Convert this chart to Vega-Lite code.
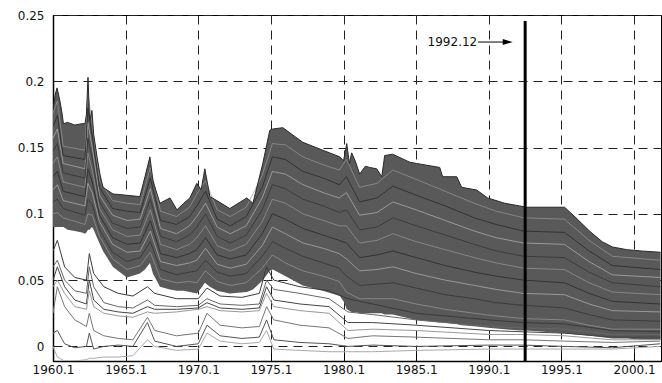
{
"$schema":"https://vega.github.io/schema/vega-lite/v6.json",
"width":608,"height":346,
"autosize":{"type":"none"},
"padding":{"left":53,"top":15,"right":1,"bottom":22},
"background":"white",
"config":{"view":{"stroke":"#000","strokeWidth":1},
"axis":{"domainColor":"#000","domainWidth":1.5,"gridColor":"#222","gridDash":[9,6],"gridWidth":1,"gridOpacity":1,"labelFont":"DejaVu Sans","labelFontSize":12,"labelColor":"#111","tickColor":"#000"}},
"datasets":{
"env":[
{"t":1960.0,"lo":0.09,"hi":0.178},{"t":1960.15,"lo":0.09,"hi":0.19},{"t":1960.28,"lo":0.09,"hi":0.195},{"t":1960.48,"lo":0.09,"hi":0.185},{"t":1960.62,"lo":0.09,"hi":0.176},{"t":1960.72,"lo":0.09,"hi":0.168},{"t":1961.0,"lo":0.088,"hi":0.169},{"t":1961.5,"lo":0.087,"hi":0.167},{"t":1962.0,"lo":0.086,"hi":0.168},{"t":1962.2,"lo":0.085,"hi":0.168},{"t":1962.3,"lo":0.086,"hi":0.175},{"t":1962.41,"lo":0.088,"hi":0.203},{"t":1962.52,"lo":0.088,"hi":0.17},{"t":1962.68,"lo":0.09,"hi":0.178},{"t":1962.8,"lo":0.088,"hi":0.16},{"t":1963.03,"lo":0.082,"hi":0.143},{"t":1963.23,"lo":0.077,"hi":0.13},{"t":1963.44,"lo":0.072,"hi":0.12},{"t":1964.13,"lo":0.06,"hi":0.115},{"t":1965.09,"lo":0.052,"hi":0.114},{"t":1965.98,"lo":0.055,"hi":0.113},{"t":1966.33,"lo":0.058,"hi":0.128},{"t":1966.67,"lo":0.063,"hi":0.143},{"t":1966.88,"lo":0.055,"hi":0.125},{"t":1967.36,"lo":0.045,"hi":0.108},{"t":1968.05,"lo":0.043,"hi":0.112},{"t":1968.53,"lo":0.042,"hi":0.103},{"t":1969.0,"lo":0.042,"hi":0.108},{"t":1969.42,"lo":0.041,"hi":0.112},{"t":1969.9,"lo":0.04,"hi":0.123},{"t":1970.2,"lo":0.044,"hi":0.118},{"t":1970.45,"lo":0.048,"hi":0.134},{"t":1970.8,"lo":0.045,"hi":0.113},{"t":1971.28,"lo":0.042,"hi":0.11},{"t":1972.17,"lo":0.04,"hi":0.104},{"t":1973.34,"lo":0.041,"hi":0.112},{"t":1973.76,"lo":0.043,"hi":0.108},{"t":1974.44,"lo":0.05,"hi":0.138},{"t":1974.92,"lo":0.057,"hi":0.163},{"t":1975.13,"lo":0.058,"hi":0.164},{"t":1975.82,"lo":0.054,"hi":0.165},{"t":1977.19,"lo":0.046,"hi":0.154},{"t":1978.57,"lo":0.042,"hi":0.148},{"t":1979.74,"lo":0.038,"hi":0.143},{"t":1980.0,"lo":0.034,"hi":0.14},{"t":1980.22,"lo":0.028,"hi":0.153},{"t":1980.4,"lo":0.027,"hi":0.138},{"t":1980.56,"lo":0.026,"hi":0.146},{"t":1980.8,"lo":0.026,"hi":0.14},{"t":1981.11,"lo":0.025,"hi":0.13},{"t":1981.5,"lo":0.025,"hi":0.136},{"t":1981.8,"lo":0.025,"hi":0.135},{"t":1982.28,"lo":0.025,"hi":0.134},{"t":1982.63,"lo":0.025,"hi":0.128},{"t":1982.83,"lo":0.024,"hi":0.144},{"t":1983.38,"lo":0.024,"hi":0.145},{"t":1984.55,"lo":0.021,"hi":0.139},{"t":1985.03,"lo":0.02,"hi":0.138},{"t":1986.62,"lo":0.018,"hi":0.135},{"t":1986.82,"lo":0.018,"hi":0.128},{"t":1987.79,"lo":0.017,"hi":0.128},{"t":1988.13,"lo":0.016,"hi":0.12},{"t":1989.16,"lo":0.015,"hi":0.118},{"t":1989.92,"lo":0.014,"hi":0.112},{"t":1991.09,"lo":0.013,"hi":0.108},{"t":1992.12,"lo":0.012,"hi":0.106},{"t":1992.6,"lo":0.012,"hi":0.105},{"t":1995.21,"lo":0.01,"hi":0.105},{"t":1996.0,"lo":0.009,"hi":0.097},{"t":1996.93,"lo":0.008,"hi":0.087},{"t":1997.8,"lo":0.007,"hi":0.079},{"t":1998.51,"lo":0.006,"hi":0.075},{"t":1999.5,"lo":0.006,"hi":0.073},{"t":2000.5,"lo":0.005,"hi":0.072},{"t":2001.82,"lo":0.005,"hi":0.071}
],
"thin":[
{"s":"c1","t":1960.0,"v":0.1},{"s":"c1","t":1960.3,"v":0.101},{"s":"c1","t":1960.7,"v":0.097},{"s":"c1","t":1962.2,"v":0.092},{"s":"c1","t":1962.4,"v":0.1},{"s":"c1","t":1962.7,"v":0.099},{"s":"c1","t":1963.2,"v":0.083},{"s":"c1","t":1964.1,"v":0.066},{"s":"c1","t":1965.1,"v":0.058},{"s":"c1","t":1966.0,"v":0.061},{"s":"c1","t":1966.7,"v":0.071},{"s":"c1","t":1967.4,"v":0.051},{"s":"c1","t":1968.5,"v":0.048},{"s":"c1","t":1969.4,"v":0.049},{"s":"c1","t":1969.9,"v":0.048},{"s":"c1","t":1970.5,"v":0.057},{"s":"c1","t":1971.3,"v":0.049},{"s":"c1","t":1972.2,"v":0.046},{"s":"c1","t":1973.3,"v":0.048},{"s":"c1","t":1974.4,"v":0.059},{"s":"c1","t":1975.1,"v":0.069},{"s":"c1","t":1976.0,"v":0.063},{"s":"c1","t":1977.2,"v":0.057},{"s":"c1","t":1978.6,"v":0.053},{"s":"c1","t":1979.7,"v":0.049},{"s":"c1","t":1980.2,"v":0.041},{"s":"c1","t":1981.1,"v":0.036},{"s":"c1","t":1982.3,"v":0.036},{"s":"c1","t":1983.4,"v":0.036},{"s":"c1","t":1985.0,"v":0.032},{"s":"c1","t":1987.0,"v":0.028},{"s":"c1","t":1989.0,"v":0.025},{"s":"c1","t":1990.5,"v":0.023},{"s":"c1","t":1992.4,"v":0.021},{"s":"c1","t":1995.2,"v":0.02},{"s":"c1","t":1996.9,"v":0.016},{"s":"c1","t":1998.5,"v":0.013},{"s":"c1","t":2001.8,"v":0.013},
{"s":"c2","t":1960.0,"v":0.118},{"s":"c2","t":1960.3,"v":0.122},{"s":"c2","t":1960.7,"v":0.11},{"s":"c2","t":1962.2,"v":0.106},{"s":"c2","t":1962.4,"v":0.123},{"s":"c2","t":1962.7,"v":0.116},{"s":"c2","t":1963.2,"v":0.094},{"s":"c2","t":1964.1,"v":0.077},{"s":"c2","t":1965.1,"v":0.071},{"s":"c2","t":1966.0,"v":0.072},{"s":"c2","t":1966.7,"v":0.087},{"s":"c2","t":1967.4,"v":0.064},{"s":"c2","t":1968.5,"v":0.061},{"s":"c2","t":1969.4,"v":0.063},{"s":"c2","t":1969.9,"v":0.065},{"s":"c2","t":1970.5,"v":0.074},{"s":"c2","t":1971.3,"v":0.062},{"s":"c2","t":1972.2,"v":0.059},{"s":"c2","t":1973.3,"v":0.062},{"s":"c2","t":1974.4,"v":0.076},{"s":"c2","t":1975.1,"v":0.09},{"s":"c2","t":1976.0,"v":0.085},{"s":"c2","t":1977.2,"v":0.078},{"s":"c2","t":1978.6,"v":0.074},{"s":"c2","t":1979.7,"v":0.07},{"s":"c2","t":1980.2,"v":0.066},{"s":"c2","t":1981.1,"v":0.057},{"s":"c2","t":1982.3,"v":0.058},{"s":"c2","t":1983.4,"v":0.06},{"s":"c2","t":1985.0,"v":0.055},{"s":"c2","t":1987.0,"v":0.05},{"s":"c2","t":1989.0,"v":0.046},{"s":"c2","t":1990.5,"v":0.043},{"s":"c2","t":1992.4,"v":0.04},{"s":"c2","t":1995.2,"v":0.039},{"s":"c2","t":1996.9,"v":0.032},{"s":"c2","t":1998.5,"v":0.027},{"s":"c2","t":2001.8,"v":0.026},
{"s":"c3","t":1960.0,"v":0.138},{"s":"c3","t":1960.3,"v":0.143},{"s":"c3","t":1960.7,"v":0.124},{"s":"c3","t":1962.2,"v":0.12},{"s":"c3","t":1962.4,"v":0.146},{"s":"c3","t":1962.7,"v":0.133},{"s":"c3","t":1963.2,"v":0.104},{"s":"c3","t":1964.1,"v":0.088},{"s":"c3","t":1965.1,"v":0.083},{"s":"c3","t":1966.0,"v":0.084},{"s":"c3","t":1966.7,"v":0.103},{"s":"c3","t":1967.4,"v":0.077},{"s":"c3","t":1968.5,"v":0.073},{"s":"c3","t":1969.4,"v":0.077},{"s":"c3","t":1969.9,"v":0.082},{"s":"c3","t":1970.5,"v":0.091},{"s":"c3","t":1971.3,"v":0.076},{"s":"c3","t":1972.2,"v":0.072},{"s":"c3","t":1973.3,"v":0.077},{"s":"c3","t":1974.4,"v":0.094},{"s":"c3","t":1975.1,"v":0.111},{"s":"c3","t":1976.0,"v":0.108},{"s":"c3","t":1977.2,"v":0.1},{"s":"c3","t":1978.6,"v":0.095},{"s":"c3","t":1979.7,"v":0.091},{"s":"c3","t":1980.2,"v":0.091},{"s":"c3","t":1981.1,"v":0.078},{"s":"c3","t":1982.3,"v":0.08},{"s":"c3","t":1983.4,"v":0.085},{"s":"c3","t":1985.0,"v":0.079},{"s":"c3","t":1987.0,"v":0.073},{"s":"c3","t":1989.0,"v":0.067},{"s":"c3","t":1990.5,"v":0.063},{"s":"c3","t":1992.4,"v":0.059},{"s":"c3","t":1995.2,"v":0.058},{"s":"c3","t":1996.9,"v":0.048},{"s":"c3","t":1998.5,"v":0.041},{"s":"c3","t":2001.8,"v":0.039},
{"s":"c4","t":1960.0,"v":0.157},{"s":"c4","t":1960.3,"v":0.164},{"s":"c4","t":1960.7,"v":0.138},{"s":"c4","t":1962.2,"v":0.134},{"s":"c4","t":1962.4,"v":0.169},{"s":"c4","t":1962.7,"v":0.15},{"s":"c4","t":1963.2,"v":0.114},{"s":"c4","t":1964.1,"v":0.099},{"s":"c4","t":1965.1,"v":0.095},{"s":"c4","t":1966.0,"v":0.096},{"s":"c4","t":1966.7,"v":0.119},{"s":"c4","t":1967.4,"v":0.089},{"s":"c4","t":1968.5,"v":0.085},{"s":"c4","t":1969.4,"v":0.091},{"s":"c4","t":1969.9,"v":0.098},{"s":"c4","t":1970.5,"v":0.108},{"s":"c4","t":1971.3,"v":0.09},{"s":"c4","t":1972.2,"v":0.085},{"s":"c4","t":1973.3,"v":0.091},{"s":"c4","t":1974.4,"v":0.112},{"s":"c4","t":1975.1,"v":0.132},{"s":"c4","t":1976.0,"v":0.13},{"s":"c4","t":1977.2,"v":0.122},{"s":"c4","t":1978.6,"v":0.116},{"s":"c4","t":1979.7,"v":0.112},{"s":"c4","t":1980.2,"v":0.116},{"s":"c4","t":1981.1,"v":0.099},{"s":"c4","t":1982.3,"v":0.101},{"s":"c4","t":1983.4,"v":0.109},{"s":"c4","t":1985.0,"v":0.103},{"s":"c4","t":1987.0,"v":0.095},{"s":"c4","t":1989.0,"v":0.087},{"s":"c4","t":1990.5,"v":0.082},{"s":"c4","t":1992.4,"v":0.078},{"s":"c4","t":1995.2,"v":0.077},{"s":"c4","t":1996.9,"v":0.064},{"s":"c4","t":1998.5,"v":0.054},{"s":"c4","t":2001.8,"v":0.052},
{"s":"c5","t":1960.0,"v":0.176},{"s":"c5","t":1960.3,"v":0.185},{"s":"c5","t":1960.7,"v":0.151},{"s":"c5","t":1962.2,"v":0.148},{"s":"c5","t":1962.4,"v":0.192},{"s":"c5","t":1962.7,"v":0.167},{"s":"c5","t":1963.2,"v":0.125},{"s":"c5","t":1964.1,"v":0.11},{"s":"c5","t":1965.1,"v":0.108},{"s":"c5","t":1966.0,"v":0.107},{"s":"c5","t":1966.7,"v":0.135},{"s":"c5","t":1967.4,"v":0.102},{"s":"c5","t":1968.5,"v":0.098},{"s":"c5","t":1969.4,"v":0.105},{"s":"c5","t":1969.9,"v":0.115},{"s":"c5","t":1970.5,"v":0.125},{"s":"c5","t":1971.3,"v":0.103},{"s":"c5","t":1972.2,"v":0.098},{"s":"c5","t":1973.3,"v":0.105},{"s":"c5","t":1974.4,"v":0.129},{"s":"c5","t":1975.1,"v":0.153},{"s":"c5","t":1976.0,"v":0.152},{"s":"c5","t":1977.2,"v":0.143},{"s":"c5","t":1978.6,"v":0.137},{"s":"c5","t":1979.7,"v":0.133},{"s":"c5","t":1980.2,"v":0.141},{"s":"c5","t":1981.1,"v":0.12},{"s":"c5","t":1982.3,"v":0.123},{"s":"c5","t":1983.4,"v":0.133},{"s":"c5","t":1985.0,"v":0.126},{"s":"c5","t":1987.0,"v":0.117},{"s":"c5","t":1989.0,"v":0.108},{"s":"c5","t":1990.5,"v":0.102},{"s":"c5","t":1992.4,"v":0.097},{"s":"c5","t":1995.2,"v":0.096},{"s":"c5","t":1996.9,"v":0.08},{"s":"c5","t":1998.5,"v":0.068},{"s":"c5","t":2001.8,"v":0.065}
],
"ln":[
{"s":"b1","t":1960.0,"v":0.109},{"s":"b1","t":1960.3,"v":0.111},{"s":"b1","t":1960.7,"v":0.104},{"s":"b1","t":1962.2,"v":0.099},{"s":"b1","t":1962.4,"v":0.111},{"s":"b1","t":1962.7,"v":0.107},{"s":"b1","t":1963.2,"v":0.088},{"s":"b1","t":1964.1,"v":0.071},{"s":"b1","t":1965.1,"v":0.064},{"s":"b1","t":1966.0,"v":0.067},{"s":"b1","t":1966.7,"v":0.079},{"s":"b1","t":1967.4,"v":0.058},{"s":"b1","t":1968.5,"v":0.054},{"s":"b1","t":1969.4,"v":0.056},{"s":"b1","t":1969.9,"v":0.057},{"s":"b1","t":1970.5,"v":0.065},{"s":"b1","t":1971.3,"v":0.056},{"s":"b1","t":1972.2,"v":0.053},{"s":"b1","t":1973.3,"v":0.055},{"s":"b1","t":1974.4,"v":0.068},{"s":"b1","t":1975.1,"v":0.079},{"s":"b1","t":1976.0,"v":0.074},{"s":"b1","t":1977.2,"v":0.068},{"s":"b1","t":1978.6,"v":0.063},{"s":"b1","t":1979.7,"v":0.059},{"s":"b1","t":1980.2,"v":0.053},{"s":"b1","t":1981.1,"v":0.046},{"s":"b1","t":1982.3,"v":0.047},{"s":"b1","t":1983.4,"v":0.048},{"s":"b1","t":1985.0,"v":0.044},{"s":"b1","t":1987.0,"v":0.039},{"s":"b1","t":1989.0,"v":0.036},{"s":"b1","t":1990.5,"v":0.033},{"s":"b1","t":1992.4,"v":0.031},{"s":"b1","t":1995.2,"v":0.029},{"s":"b1","t":1996.9,"v":0.024},{"s":"b1","t":1998.5,"v":0.02},{"s":"b1","t":2001.8,"v":0.019},
{"s":"b2","t":1960.0,"v":0.128},{"s":"b2","t":1960.3,"v":0.132},{"s":"b2","t":1960.7,"v":0.117},{"s":"b2","t":1962.2,"v":0.113},{"s":"b2","t":1962.4,"v":0.134},{"s":"b2","t":1962.7,"v":0.124},{"s":"b2","t":1963.2,"v":0.099},{"s":"b2","t":1964.1,"v":0.082},{"s":"b2","t":1965.1,"v":0.077},{"s":"b2","t":1966.0,"v":0.078},{"s":"b2","t":1966.7,"v":0.095},{"s":"b2","t":1967.4,"v":0.07},{"s":"b2","t":1968.5,"v":0.067},{"s":"b2","t":1969.4,"v":0.07},{"s":"b2","t":1969.9,"v":0.073},{"s":"b2","t":1970.5,"v":0.082},{"s":"b2","t":1971.3,"v":0.069},{"s":"b2","t":1972.2,"v":0.066},{"s":"b2","t":1973.3,"v":0.069},{"s":"b2","t":1974.4,"v":0.085},{"s":"b2","t":1975.1,"v":0.1},{"s":"b2","t":1976.0,"v":0.096},{"s":"b2","t":1977.2,"v":0.089},{"s":"b2","t":1978.6,"v":0.084},{"s":"b2","t":1979.7,"v":0.08},{"s":"b2","t":1980.2,"v":0.078},{"s":"b2","t":1981.1,"v":0.067},{"s":"b2","t":1982.3,"v":0.069},{"s":"b2","t":1983.4,"v":0.072},{"s":"b2","t":1985.0,"v":0.067},{"s":"b2","t":1987.0,"v":0.061},{"s":"b2","t":1989.0,"v":0.056},{"s":"b2","t":1990.5,"v":0.053},{"s":"b2","t":1992.4,"v":0.05},{"s":"b2","t":1995.2,"v":0.048},{"s":"b2","t":1996.9,"v":0.04},{"s":"b2","t":1998.5,"v":0.034},{"s":"b2","t":2001.8,"v":0.032},
{"s":"b3","t":1960.0,"v":0.147},{"s":"b3","t":1960.3,"v":0.153},{"s":"b3","t":1960.7,"v":0.131},{"s":"b3","t":1962.2,"v":0.127},{"s":"b3","t":1962.4,"v":0.157},{"s":"b3","t":1962.7,"v":0.142},{"s":"b3","t":1963.2,"v":0.109},{"s":"b3","t":1964.1,"v":0.093},{"s":"b3","t":1965.1,"v":0.089},{"s":"b3","t":1966.0,"v":0.09},{"s":"b3","t":1966.7,"v":0.111},{"s":"b3","t":1967.4,"v":0.083},{"s":"b3","t":1968.5,"v":0.079},{"s":"b3","t":1969.4,"v":0.084},{"s":"b3","t":1969.9,"v":0.09},{"s":"b3","t":1970.5,"v":0.1},{"s":"b3","t":1971.3,"v":0.083},{"s":"b3","t":1972.2,"v":0.078},{"s":"b3","t":1973.3,"v":0.084},{"s":"b3","t":1974.4,"v":0.103},{"s":"b3","t":1975.1,"v":0.122},{"s":"b3","t":1976.0,"v":0.119},{"s":"b3","t":1977.2,"v":0.111},{"s":"b3","t":1978.6,"v":0.106},{"s":"b3","t":1979.7,"v":0.101},{"s":"b3","t":1980.2,"v":0.103},{"s":"b3","t":1981.1,"v":0.088},{"s":"b3","t":1982.3,"v":0.09},{"s":"b3","t":1983.4,"v":0.097},{"s":"b3","t":1985.0,"v":0.091},{"s":"b3","t":1987.0,"v":0.084},{"s":"b3","t":1989.0,"v":0.077},{"s":"b3","t":1990.5,"v":0.072},{"s":"b3","t":1992.4,"v":0.068},{"s":"b3","t":1995.2,"v":0.067},{"s":"b3","t":1996.9,"v":0.056},{"s":"b3","t":1998.5,"v":0.048},{"s":"b3","t":2001.8,"v":0.045},
{"s":"b4","t":1960.0,"v":0.166},{"s":"b4","t":1960.3,"v":0.174},{"s":"b4","t":1960.7,"v":0.144},{"s":"b4","t":1962.2,"v":0.141},{"s":"b4","t":1962.4,"v":0.18},{"s":"b4","t":1962.7,"v":0.159},{"s":"b4","t":1963.2,"v":0.12},{"s":"b4","t":1964.1,"v":0.104},{"s":"b4","t":1965.1,"v":0.102},{"s":"b4","t":1966.0,"v":0.101},{"s":"b4","t":1966.7,"v":0.127},{"s":"b4","t":1967.4,"v":0.095},{"s":"b4","t":1968.5,"v":0.092},{"s":"b4","t":1969.4,"v":0.098},{"s":"b4","t":1969.9,"v":0.106},{"s":"b4","t":1970.5,"v":0.117},{"s":"b4","t":1971.3,"v":0.096},{"s":"b4","t":1972.2,"v":0.091},{"s":"b4","t":1973.3,"v":0.098},{"s":"b4","t":1974.4,"v":0.12},{"s":"b4","t":1975.1,"v":0.143},{"s":"b4","t":1976.0,"v":0.141},{"s":"b4","t":1977.2,"v":0.132},{"s":"b4","t":1978.6,"v":0.127},{"s":"b4","t":1979.7,"v":0.122},{"s":"b4","t":1980.2,"v":0.128},{"s":"b4","t":1981.1,"v":0.109},{"s":"b4","t":1982.3,"v":0.112},{"s":"b4","t":1983.4,"v":0.121},{"s":"b4","t":1985.0,"v":0.114},{"s":"b4","t":1987.0,"v":0.106},{"s":"b4","t":1989.0,"v":0.097},{"s":"b4","t":1990.5,"v":0.092},{"s":"b4","t":1992.4,"v":0.087},{"s":"b4","t":1995.2,"v":0.086},{"s":"b4","t":1996.9,"v":0.072},{"s":"b4","t":1998.5,"v":0.061},{"s":"b4","t":2001.8,"v":0.058},
{"s":"l1","t":1960.0,"v":0.072},{"s":"l1","t":1960.3,"v":0.08},{"s":"l1","t":1960.8,"v":0.06},{"s":"l1","t":1961.5,"v":0.052},{"s":"l1","t":1962.3,"v":0.05},{"s":"l1","t":1962.5,"v":0.07},{"s":"l1","t":1962.8,"v":0.055},{"s":"l1","t":1963.5,"v":0.045},{"s":"l1","t":1964.5,"v":0.04},{"s":"l1","t":1965.5,"v":0.038},{"s":"l1","t":1966.5,"v":0.045},{"s":"l1","t":1967.0,"v":0.04},{"s":"l1","t":1968.5,"v":0.036},{"s":"l1","t":1970.0,"v":0.036},{"s":"l1","t":1970.6,"v":0.044},{"s":"l1","t":1971.5,"v":0.038},{"s":"l1","t":1973.0,"v":0.037},{"s":"l1","t":1974.2,"v":0.04},{"s":"l1","t":1974.7,"v":0.06},{"s":"l1","t":1975.2,"v":0.05},{"s":"l1","t":1977.0,"v":0.045},{"s":"l1","t":1979.0,"v":0.042},{"s":"l1","t":1980.3,"v":0.036},{"s":"l1","t":1982.0,"v":0.032},{"s":"l1","t":1985.0,"v":0.025},{"s":"l1","t":1990.0,"v":0.02},{"s":"l1","t":1992.4,"v":0.018},{"s":"l1","t":1995.2,"v":0.017},{"s":"l1","t":1998.5,"v":0.012},{"s":"l1","t":2001.8,"v":0.011},
{"s":"l2","t":1960.0,"v":0.06},{"s":"l2","t":1960.3,"v":0.065},{"s":"l2","t":1960.8,"v":0.05},{"s":"l2","t":1961.5,"v":0.042},{"s":"l2","t":1962.3,"v":0.04},{"s":"l2","t":1962.5,"v":0.06},{"s":"l2","t":1962.8,"v":0.045},{"s":"l2","t":1963.5,"v":0.033},{"s":"l2","t":1964.5,"v":0.03},{"s":"l2","t":1965.5,"v":0.029},{"s":"l2","t":1966.5,"v":0.035},{"s":"l2","t":1967.0,"v":0.031},{"s":"l2","t":1968.5,"v":0.03},{"s":"l2","t":1970.0,"v":0.031},{"s":"l2","t":1970.6,"v":0.036},{"s":"l2","t":1971.5,"v":0.032},{"s":"l2","t":1973.0,"v":0.031},{"s":"l2","t":1974.2,"v":0.032},{"s":"l2","t":1974.7,"v":0.05},{"s":"l2","t":1975.2,"v":0.043},{"s":"l2","t":1977.0,"v":0.04},{"s":"l2","t":1979.0,"v":0.036},{"s":"l2","t":1980.3,"v":0.026},{"s":"l2","t":1982.0,"v":0.024},{"s":"l2","t":1985.0,"v":0.02},{"s":"l2","t":1990.0,"v":0.015},{"s":"l2","t":1992.4,"v":0.014},{"s":"l2","t":1995.2,"v":0.013},{"s":"l2","t":1998.5,"v":0.009},{"s":"l2","t":2001.8,"v":0.009},
{"s":"l3","t":1960.0,"v":0.05},{"s":"l3","t":1960.3,"v":0.06},{"s":"l3","t":1960.8,"v":0.045},{"s":"l3","t":1961.5,"v":0.035},{"s":"l3","t":1962.3,"v":0.032},{"s":"l3","t":1962.5,"v":0.05},{"s":"l3","t":1962.8,"v":0.035},{"s":"l3","t":1963.5,"v":0.028},{"s":"l3","t":1964.5,"v":0.026},{"s":"l3","t":1965.5,"v":0.025},{"s":"l3","t":1966.5,"v":0.03},{"s":"l3","t":1967.0,"v":0.028},{"s":"l3","t":1968.5,"v":0.028},{"s":"l3","t":1970.0,"v":0.029},{"s":"l3","t":1970.6,"v":0.033},{"s":"l3","t":1971.5,"v":0.029},{"s":"l3","t":1973.0,"v":0.028},{"s":"l3","t":1974.2,"v":0.029},{"s":"l3","t":1974.7,"v":0.045},{"s":"l3","t":1975.2,"v":0.035},{"s":"l3","t":1977.0,"v":0.032},{"s":"l3","t":1979.0,"v":0.03},{"s":"l3","t":1980.3,"v":0.018},{"s":"l3","t":1982.0,"v":0.018},{"s":"l3","t":1985.0,"v":0.016},{"s":"l3","t":1990.0,"v":0.012},{"s":"l3","t":1992.4,"v":0.011},{"s":"l3","t":1995.2,"v":0.01},{"s":"l3","t":1998.5,"v":0.007},{"s":"l3","t":2001.8,"v":0.007},
{"s":"l4","t":1960.0,"v":0.045},{"s":"l4","t":1960.3,"v":0.05},{"s":"l4","t":1960.8,"v":0.04},{"s":"l4","t":1961.5,"v":0.03},{"s":"l4","t":1962.3,"v":0.028},{"s":"l4","t":1962.5,"v":0.042},{"s":"l4","t":1962.8,"v":0.03},{"s":"l4","t":1963.5,"v":0.025},{"s":"l4","t":1964.5,"v":0.023},{"s":"l4","t":1965.5,"v":0.022},{"s":"l4","t":1966.5,"v":0.026},{"s":"l4","t":1967.0,"v":0.025},{"s":"l4","t":1968.5,"v":0.026},{"s":"l4","t":1970.0,"v":0.028},{"s":"l4","t":1970.6,"v":0.03},{"s":"l4","t":1971.5,"v":0.027},{"s":"l4","t":1973.0,"v":0.026},{"s":"l4","t":1974.2,"v":0.027},{"s":"l4","t":1974.7,"v":0.04},{"s":"l4","t":1975.2,"v":0.03},{"s":"l4","t":1977.0,"v":0.027},{"s":"l4","t":1979.0,"v":0.025},{"s":"l4","t":1980.3,"v":0.012},{"s":"l4","t":1982.0,"v":0.013},{"s":"l4","t":1985.0,"v":0.012},{"s":"l4","t":1990.0,"v":0.009},{"s":"l4","t":1992.4,"v":0.009},{"s":"l4","t":1995.2,"v":0.008},{"s":"l4","t":1998.5,"v":0.005},{"s":"l4","t":2001.8,"v":0.005},
{"s":"l5","t":1960.0,"v":0.025},{"s":"l5","t":1960.3,"v":0.045},{"s":"l5","t":1960.8,"v":0.03},{"s":"l5","t":1961.5,"v":0.02},{"s":"l5","t":1962.3,"v":0.015},{"s":"l5","t":1962.5,"v":0.025},{"s":"l5","t":1962.8,"v":0.012},{"s":"l5","t":1963.5,"v":0.008},{"s":"l5","t":1964.5,"v":0.006},{"s":"l5","t":1965.5,"v":0.005},{"s":"l5","t":1966.5,"v":0.022},{"s":"l5","t":1967.0,"v":0.012},{"s":"l5","t":1968.5,"v":0.008},{"s":"l5","t":1970.0,"v":0.01},{"s":"l5","t":1970.6,"v":0.025},{"s":"l5","t":1971.5,"v":0.016},{"s":"l5","t":1973.0,"v":0.014},{"s":"l5","t":1974.2,"v":0.015},{"s":"l5","t":1974.7,"v":0.03},{"s":"l5","t":1975.2,"v":0.02},{"s":"l5","t":1977.0,"v":0.016},{"s":"l5","t":1979.0,"v":0.014},{"s":"l5","t":1980.3,"v":0.006},{"s":"l5","t":1982.0,"v":0.008},{"s":"l5","t":1985.0,"v":0.007},{"s":"l5","t":1990.0,"v":0.005},{"s":"l5","t":1992.4,"v":0.005},{"s":"l5","t":1995.2,"v":0.004},{"s":"l5","t":1998.5,"v":0.003},{"s":"l5","t":2001.8,"v":0.004},
{"s":"l6","t":1960.0,"v":0.01},{"s":"l6","t":1960.3,"v":0.012},{"s":"l6","t":1960.8,"v":0.002},{"s":"l6","t":1961.5,"v":-0.001},{"s":"l6","t":1962.3,"v":0.0},{"s":"l6","t":1962.5,"v":0.01},{"s":"l6","t":1962.8,"v":-0.002},{"s":"l6","t":1963.5,"v":0.0},{"s":"l6","t":1964.5,"v":0.001},{"s":"l6","t":1965.5,"v":0.0},{"s":"l6","t":1966.5,"v":0.018},{"s":"l6","t":1967.0,"v":0.004},{"s":"l6","t":1968.5,"v":0.0},{"s":"l6","t":1970.0,"v":0.002},{"s":"l6","t":1970.6,"v":0.016},{"s":"l6","t":1971.5,"v":0.008},{"s":"l6","t":1973.0,"v":0.006},{"s":"l6","t":1974.2,"v":0.007},{"s":"l6","t":1974.7,"v":0.02},{"s":"l6","t":1975.2,"v":0.005},{"s":"l6","t":1977.0,"v":0.003},{"s":"l6","t":1979.0,"v":0.002},{"s":"l6","t":1980.3,"v":0.0},{"s":"l6","t":1982.0,"v":0.001},{"s":"l6","t":1985.0,"v":0.0},{"s":"l6","t":1990.0,"v":0.001},{"s":"l6","t":1992.4,"v":0.001},{"s":"l6","t":1995.2,"v":0.0},{"s":"l6","t":1998.5,"v":-0.001},{"s":"l6","t":2001.8,"v":0.002},
{"s":"l7","t":1960.0,"v":0.0},{"s":"l7","t":1960.3,"v":-0.008},{"s":"l7","t":1960.8,"v":-0.011},{"s":"l7","t":1961.5,"v":-0.011},{"s":"l7","t":1962.3,"v":-0.01},{"s":"l7","t":1962.5,"v":-0.009},{"s":"l7","t":1962.8,"v":-0.009},{"s":"l7","t":1963.5,"v":-0.008},{"s":"l7","t":1964.5,"v":-0.008},{"s":"l7","t":1965.5,"v":-0.007},{"s":"l7","t":1966.5,"v":0.005},{"s":"l7","t":1967.0,"v":0.0},{"s":"l7","t":1968.5,"v":-0.003},{"s":"l7","t":1970.0,"v":-0.002},{"s":"l7","t":1970.6,"v":0.01},{"s":"l7","t":1971.5,"v":0.004},{"s":"l7","t":1973.0,"v":0.002},{"s":"l7","t":1974.2,"v":0.003},{"s":"l7","t":1974.7,"v":0.012},{"s":"l7","t":1975.2,"v":-0.002},{"s":"l7","t":1977.0,"v":-0.003},{"s":"l7","t":1979.0,"v":-0.004},{"s":"l7","t":1980.3,"v":-0.004},{"s":"l7","t":1982.0,"v":-0.004},{"s":"l7","t":1985.0,"v":-0.003},{"s":"l7","t":1990.0,"v":-0.002},{"s":"l7","t":1992.4,"v":-0.002},{"s":"l7","t":1995.2,"v":-0.002},{"s":"l7","t":1998.5,"v":-0.002},{"s":"l7","t":2001.8,"v":0.0}
]},
"encoding":{"x":{"field":"t","type":"quantitative","scale":{"domain":[1960,2001.85],"nice":false,"zero":false},"axis":{"title":null,"values":[1960,1965,1970,1975,1980,1985,1990,1995,2000],"labelExpr":"datum.value + '.1'","labelFlush":false,"labelOverlap":false,"tickSize":-8,"labelPadding":11}}},
"layer":[
{"data":{"name":"env"},"mark":{"type":"area","color":"#595959","clip":true},
 "encoding":{"y":{"field":"lo","type":"quantitative","scale":{"domain":[-0.011,0.25],"nice":false,"zero":false},"axis":{"title":null,"values":[0,0.05,0.1,0.15,0.2,0.25],"format":".2~f","ticks":false,"labelPadding":9}},"y2":{"field":"hi"}}},
{"data":{"name":"thin"},"mark":{"type":"line","strokeWidth":0.7,"clip":true},
 "encoding":{"y":{"field":"v","type":"quantitative","axis":{"title":null,"values":[0,0.05,0.1,0.15,0.2,0.25],"format":".2~f","ticks":false,"labelPadding":9}},"color":{"field":"s","type":"nominal","legend":null,"scale":{"domain":["c1","c2","c3","c4","c5"],"range":["#9a9a9a","#b5b5b5","#9a9a9a","#b5b5b5","#9a9a9a"]}}}},
{"data":{"name":"ln"},"mark":{"type":"line","strokeWidth":1,"clip":true},
 "encoding":{"y":{"field":"v","type":"quantitative","axis":{"title":null,"values":[0,0.05,0.1,0.15,0.2,0.25],"format":".2~f","ticks":false,"labelPadding":9}},"stroke":{"field":"s","type":"nominal","legend":null,"scale":{"domain":["b1","b2","b3","b4","l1","l2","l3","l4","l5","l6","l7"],"range":["#3c3c3c","#333333","#3c3c3c","#333333","#3a3a3a","#666666","#444444","#999999","#777777","#555555","#aaaaaa"]}}}},
{"data":{"name":"env"},"mark":{"type":"line","color":"#2a2a2a","strokeWidth":1,"clip":true},
 "encoding":{"y":{"field":"hi","type":"quantitative","axis":{"title":null,"values":[0,0.05,0.1,0.15,0.2,0.25],"format":".2~f","ticks":false,"labelPadding":9}}}},
{"data":{"values":[{"t":1992.5,"lo":-0.011,"hi":0.2455}]},"mark":{"type":"rule","color":"#000","strokeWidth":3},
 "encoding":{"y":{"field":"lo","type":"quantitative","axis":{"title":null,"values":[0,0.05,0.1,0.15,0.2,0.25],"format":".2~f","ticks":false,"labelPadding":9}},"y2":{"field":"hi"}}},
{"data":{"values":[{"t":1989.25,"t2":1991.2,"v":0.2296}]},"mark":{"type":"rule","color":"#000","strokeWidth":1},
 "encoding":{"x2":{"field":"t2"},"y":{"field":"v","type":"quantitative","axis":{"title":null,"values":[0,0.05,0.1,0.15,0.2,0.25],"format":".2~f","ticks":false,"labelPadding":9}}}},
{"data":{"values":[{"t":1991.3,"v":0.2296}]},"mark":{"type":"point","shape":"M-1,-0.6L1,0L-1,0.6Z","size":100,"filled":true,"color":"#000","opacity":1},
 "encoding":{"y":{"field":"v","type":"quantitative","axis":{"title":null,"values":[0,0.05,0.1,0.15,0.2,0.25],"format":".2~f","ticks":false,"labelPadding":9}}}},
{"data":{"values":[{"t":1989.2,"v":0.2296,"label":"1992.12"}]},"mark":{"type":"text","align":"right","baseline":"middle","font":"DejaVu Sans","fontSize":12,"color":"#111"},
 "encoding":{"y":{"field":"v","type":"quantitative","axis":{"title":null,"values":[0,0.05,0.1,0.15,0.2,0.25],"format":".2~f","ticks":false,"labelPadding":9}},"text":{"field":"label"}}}
]
}
